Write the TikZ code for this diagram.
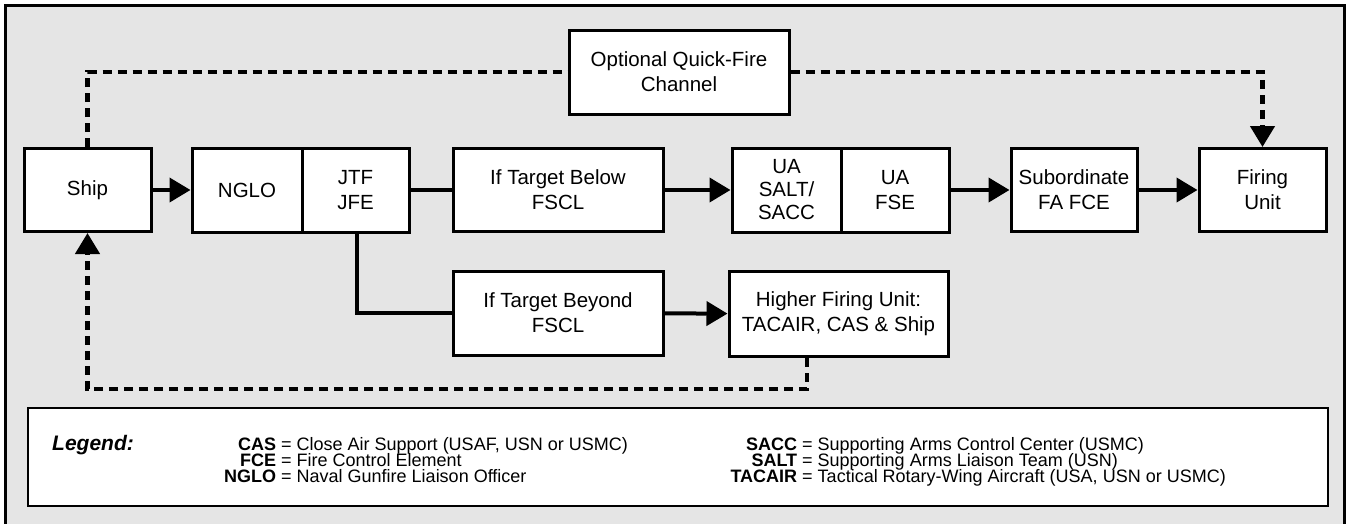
\documentclass[tikz,border=0pt]{standalone}
\usepackage{fontspec}
\setmainfont{Liberation Sans}
\usetikzlibrary{arrows.meta}
\newcommand{\unitfont}{\fontsize{20.5}{25}\selectfont}
\newcommand{\legfont}{\fontsize{18}{16}\selectfont}
\tikzset{
  unit/.style={draw, line width=3pt, fill=white, align=center, inner sep=0pt, font=\unitfont},
  flow/.style={line width=4pt},
  quick/.style={line width=4.5pt, dash pattern=on 9pt off 6pt},
  tip/.style={-{Triangle[length=21pt,width=24pt]}},
  legtext/.style={anchor=base west, inner sep=0pt, font=\legfont}
}
\begin{document}
\begin{tikzpicture}[x=1pt,y=-1pt]
        \useasboundingbox (0,0) rectangle (1347,523);
        \draw[line width=3pt, fill=gray!20] (5,5) rectangle (1344,545);

        \node[unit, minimum width=127pt, minimum height=83pt] (ship) at (87.5,190) {Ship};
        \node[unit, minimum width=110pt, minimum height=84pt] (nglo) at (247,190) {NGLO};
        \node[unit, minimum width=107pt, minimum height=84pt] (jtf) at (355.5,190) {JTF\\JFE};
        \node[unit, minimum width=210pt, minimum height=83pt] (below) at (558,190) {If Target Below\\FSCL};
        \node[unit, minimum width=109pt, minimum height=84pt, font=\fontsize{20.5}{23}\selectfont] (salt) at (786.5,190) {UA\\SALT/\\SACC};
        \node[unit, minimum width=108pt, minimum height=84pt] (fse) at (895,190) {UA\\FSE};
        \node[unit, minimum width=126pt, minimum height=83pt] (subfa) at (1074,190) {Subordinate\\FA FCE};
        \node[unit, minimum width=127pt, minimum height=83pt] (firing) at (1262.5,190) {Firing\\Unit};
        \node[unit, minimum width=220pt, minimum height=84pt] (quickfire) at (679,72) {Optional Quick-Fire\\Channel};
        \node[unit, minimum width=210pt, minimum height=84pt] (beyond) at (558,313) {If Target Beyond\\FSCL};
        \node[unit, minimum width=219pt, minimum height=85pt] (higher) at (838.5,314) {Higher Firing Unit:\\TACAIR, CAS \& Ship};

        \draw[flow, tip] (ship) -- (nglo);
        \draw[flow] (jtf) -- (below);
        \draw[flow, tip] (below) -- (salt);
        \draw[flow, tip] (fse) -- (subfa);
        \draw[flow, tip] (subfa) -- (firing);
        \draw[flow] ([xshift=1.5pt]jtf.south) |- (beyond.west);
        \draw[flow, tip] (beyond) -- (higher);

        \draw[quick] (ship.north) |- (quickfire.west);
        \draw[quick, tip] (quickfire.east) -| (firing.north);
        \draw[quick, tip] ([xshift=-31.5pt]higher.south) |- ([yshift=-156pt]ship.south) -- (ship.south);

        \draw[line width=1.5pt, fill=white] (28,408) rectangle (1328,506);
        \node[legtext, font=\fontsize{21}{24}\selectfont\bfseries\itshape] (legend) at (52,450) {Legend:};
        \foreach \t/\d [count=\i] in {CAS/{Close Air Support (USAF, USN or USMC)}, FCE/{Fire Control Element}, NGLO/{Naval Gunfire Liaison Officer}}{
          \node[legtext] (lefta\i) at (276, 434+16*\i) {\llap{\textbf{\t}} = \d};
        }
        \foreach \t/\d [count=\i] in {SACC/{Supporting Arms Control Center (USMC)}, SALT/{Supporting Arms Liaison Team (USN)}, TACAIR/{Tactical Rotary-Wing Aircraft (USA, USN or USMC)}}{
          \node[legtext] (leftb\i) at (797, 434+16*\i) {\llap{\textbf{\t}} = \d};
        }
      \end{tikzpicture}
\end{document}
